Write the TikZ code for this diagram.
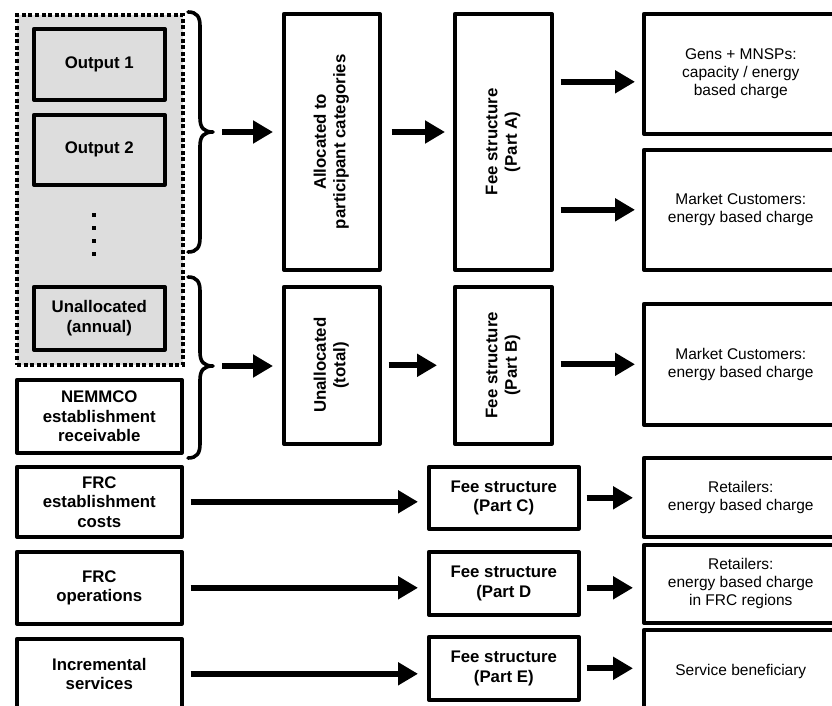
\documentclass[tikz,border=0pt]{standalone}
\usepackage{fontspec}
\setmainfont{Liberation Sans}
\usetikzlibrary{arrows.meta}
\definecolor{panelgray}{RGB}{221,221,221}
\tikzset{
  frame/.style={draw, line width=3.6pt, line join=round, anchor=north west,
    align=center, inner sep=2pt},
  srcbox/.style={frame, font=\fontsize{16.8}{19.5}\selectfont\bfseries},
  outbox/.style={frame, font=\fontsize{15.5}{18}\selectfont},
  shaded/.style={fill=panelgray},
  arr/.style={-{Triangle[length=20pt,width=22pt]}, line width=6pt},
  bracepath/.style={line width=3.6pt, line cap=round, line join=round},
  dotframe/.style={draw, fill=panelgray, line width=4pt,
    dash pattern=on 4pt off 2.6pt, anchor=north west}
}
\newcommand{\vtext}[1]{\rotatebox{90}{\begin{tabular}{@{}c@{}}#1\end{tabular}}}
\begin{document}
\begin{tikzpicture}[x=1pt,y=-1pt]
\useasboundingbox (0,0) rectangle (832,706);
\clip (0,0) rectangle (832,706);

% grey panel holding the outputs
\node[dotframe, minimum width=166pt, minimum height=350pt] (panel) at (15,13) {};
\node[srcbox, shaded, minimum width=131pt, minimum height=71pt] (out1) at (32,27) {Output 1};
\node[srcbox, shaded, minimum width=131pt, minimum height=70pt] (out2) at (32,113) {Output 2};
\foreach \yy in {215,228,241,254}
  \fill (92,\yy-2) rectangle (96,\yy+2);
\node[srcbox, shaded, minimum width=131pt, minimum height=63pt] (unann) at (32,285) {Unallocated\\(annual)};

% left column sources
\node[srcbox, minimum width=165pt, minimum height=73pt] (nemmco) at (15,378) {NEMMCO\\establishment\\receivable};
\node[srcbox, minimum width=165pt, minimum height=70pt] (frcA) at (15,465) {FRC\\establishment\\costs};
\node[srcbox, minimum width=165pt, minimum height=72pt] (frcO) at (15,550) {FRC\\operations};
\node[srcbox, minimum width=165pt, minimum height=70pt] (inc) at (15,637) {Incremental\\services};

% tall middle boxes
\node[srcbox, minimum width=96pt, minimum height=256pt] (alloc) at (282,12) {\vtext{Allocated to\\participant categories}};
\node[srcbox, minimum width=97pt, minimum height=256pt] (feeA) at (453,12) {\vtext{Fee structure\\(Part A)}};
\node[srcbox, minimum width=96pt, minimum height=157pt] (ut) at (282,285) {\vtext{Unallocated\\(total)}};
\node[srcbox, minimum width=97pt, minimum height=157pt] (feeB) at (453,285) {\vtext{Fee structure\\(Part B)}};

% fee structure boxes C--E
\node[srcbox, minimum width=150pt, minimum height=62pt] (feeC) at (427,465) {Fee structure\\(Part C)};
\node[srcbox, minimum width=150pt, minimum height=63pt] (feeD) at (427,550) {Fee structure\\(Part D};
\node[srcbox, minimum width=150pt, minimum height=63pt] (feeE) at (427,635) {Fee structure\\(Part E)};

% charged parties
\node[outbox, minimum width=194pt, minimum height=120pt] (gens) at (642,12) {Gens + MNSPs:\\capacity / energy\\based charge};
\node[outbox, minimum width=194pt, minimum height=120pt] (mc1) at (642,148) {Market Customers:\\energy based charge};
\node[outbox, minimum width=194pt, minimum height=121pt] (mc2) at (642,302) {Market Customers:\\energy based charge};
\node[outbox, minimum width=194pt, minimum height=79pt] (ret1) at (642,456) {Retailers:\\energy based charge};
\node[outbox, minimum width=194pt, minimum height=78pt] (ret2) at (642,543) {Retailers:\\energy based charge\\in FRC regions};
\node[outbox, minimum width=194pt, minimum height=84pt] (svc) at (642,628) {Service beneficiary};

% braces grouping the sources
\coordinate (b1) at (213,132);
\coordinate (b2) at (213,366);
\draw[bracepath] (188,12) .. controls (197,12) and (200,17) .. (200,26)
  -- (200,118) .. controls (200,128) and (204,132) .. (b1)
  .. controls (204,132) and (200,136) .. (200,146)
  -- (200,238) .. controls (200,247) and (197,252) .. (188,252);
\draw[bracepath] (188,277) .. controls (197,277) and (200,282) .. (200,291)
  -- (200,352) .. controls (200,362) and (204,366) .. (b2)
  .. controls (204,366) and (200,370) .. (200,380)
  -- (200,444) .. controls (200,453) and (197,458) .. (188,458);

% flow arrows
\coordinate (ga) at ([yshift=-8pt]gens.west);
\draw[arr, shorten <=9pt, shorten >=9pt] (b1) -- (b1 -| alloc.west);
\draw[arr, shorten <=10pt, shorten >=8pt] (alloc.east |- b1) -- (feeA.west |- b1);
\draw[arr, shorten <=7pt, shorten >=7pt] (feeA.east |- ga) -- (ga);
\draw[arr, shorten <=7pt, shorten >=7pt] (feeA.east |- mc1.west) -- (mc1.west);
\draw[arr, shorten <=9pt, shorten >=9pt] (b2) -- (b2 -| ut.west);
\draw[arr, shorten <=7pt, shorten >=16pt] (ut.east) -- (ut.east -| feeB.west);
\draw[arr, shorten <=7pt, shorten >=7pt] (feeB.east |- mc2.west) -- (mc2.west);
\draw[arr, shorten <=7pt, shorten >=9pt] (frcA.east) -- (frcA.east -| feeC.west);
\draw[arr, shorten <=6pt, shorten >=9pt] (feeC.east) -- (feeC.east -| ret1.west);
\draw[arr, shorten <=7pt, shorten >=9pt] (frcO.east) -- (frcO.east -| feeD.west);
\draw[arr, shorten <=6pt, shorten >=9pt] (feeD.east |- frcO.east) -- (ret2.west |- frcO.east);
\draw[arr, shorten <=7pt, shorten >=9pt] (inc.east) -- (inc.east -| feeE.west);
\draw[arr, shorten <=6pt, shorten >=9pt] (feeE.east) -- (feeE.east -| svc.west);
\end{tikzpicture}
\end{document}
